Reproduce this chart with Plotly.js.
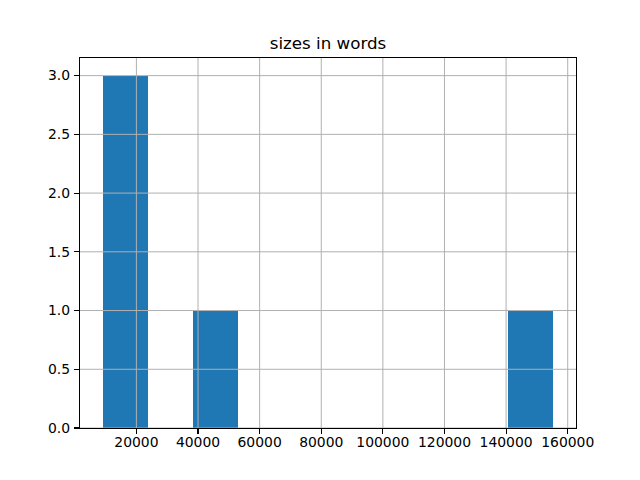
<!DOCTYPE html>
<html>
<head>
<meta charset="utf-8">
<script src="https://cdn.plot.ly/plotly-3.0.1.min.js"></script>
<style>html,body{margin:0;padding:0;background:#fff;}#chart{width:640px;height:480px;}</style>
</head>
<body>
<div id="chart"></div>
<script>
// histogram bin edges (10 bins) and counts
const binEdges = [9011, 23647, 38283, 52919, 67555, 82191, 96827, 111463, 126099, 140735, 155371];
const counts = [3, 0, 1, 0, 0, 0, 0, 0, 0, 1];
const xTicks = [20000, 40000, 60000, 80000, 100000, 120000, 140000, 160000];
const yTicks = [0, 0.5, 1.0, 1.5, 2.0, 2.5, 3.0];
const titleText = 'sizes in words';

const lefts = binEdges.slice(0, -1);
const widths = lefts.map((v, i) => binEdges[i + 1] - v);

const trace = {
  type: 'bar',
  x: lefts,
  y: counts,
  width: widths,
  offset: 0,
  marker: {color: '#1f77b4', line: {width: 0}},
  hoverinfo: 'x+y'
};

const gridStyle = {color: '#b0b0b0', width: 1};
const shapes = [];
xTicks.forEach(v => shapes.push({type: 'line', layer: 'above', xref: 'x', yref: 'paper', x0: v, x1: v, y0: 0, y1: 1, line: gridStyle}));
yTicks.forEach(v => shapes.push({type: 'line', layer: 'above', xref: 'paper', yref: 'y', x0: 0, x1: 1, y0: v, y1: v, line: gridStyle}));

const span = binEdges[binEdges.length - 1] - binEdges[0];
const font = {family: 'DejaVu Sans', size: 13.9, color: '#000'};

const layout = {
  width: 640, height: 480,
  margin: {l: 80, r: 64, t: 58, b: 52, pad: 0},
  paper_bgcolor: '#fff', plot_bgcolor: '#fff',
  showlegend: false,
  bargap: 0,
  title: {text: titleText, font: {family: 'DejaVu Sans', size: 16.7, color: '#000'}, x: 0.5, xref: 'paper', y: 1, yref: 'paper', yanchor: 'bottom', pad: {b: 9}},
  xaxis: {
    range: [binEdges[0] - 0.05 * span, binEdges[binEdges.length - 1] + 0.05 * span],
    tickvals: xTicks, ticktext: xTicks.map(String),
    showgrid: false, zeroline: false,
    showline: true, mirror: true, linecolor: '#000', linewidth: 1.1,
    ticks: 'outside', ticklen: 5, tickwidth: 1.1, tickcolor: '#000',
    ticklabelstandoff: -4,
    tickfont: font
  },
  yaxis: {
    range: [0, 3.15],
    tickvals: yTicks, ticktext: yTicks.map(v => v.toFixed(1)),
    showgrid: false, zeroline: false,
    showline: true, mirror: true, linecolor: '#000', linewidth: 1.1,
    ticks: 'outside', ticklen: 5, tickwidth: 1.1, tickcolor: '#000',
    ticklabelstandoff: 1,
    tickfont: font
  },
  shapes: shapes
};

Plotly.newPlot('chart', [trace], layout, {displayModeBar: false, staticPlot: true});
</script>
</body>
</html>
